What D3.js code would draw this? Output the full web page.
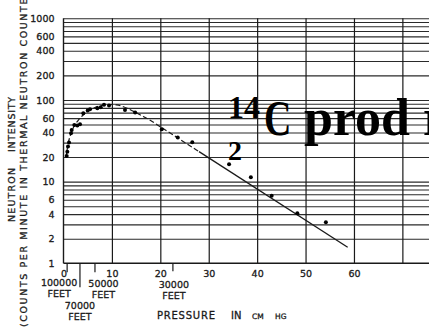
<!DOCTYPE html>
<html>
<head>
<meta charset="utf-8">
<script src="https://cdn.jsdelivr.net/npm/d3@7"></script>
<style>
  body { margin: 0; background: #fff; }
  svg { display: block; }
</style>
</head>
<body>
<svg id="chart" width="429" height="328"></svg>
<script>
// measured points: pressure (cm Hg) vs neutron counts per minute
const pressure = [0.66, 0.79, 0.93, 1.14, 1.55, 1.69, 2.23, 2.85, 3.41, 4.09, 5.0, 5.48, 6.98, 7.69, 8.37, 9.4, 12.7, 14.8,
  20.3, 23.6, 26.6, 34.2, 38.7, 43.0, 48.3, 54.2];
const intensity = [20.6, 23.3, 26.9, 30.1, 39.2, 43, 49.5, 48.6, 50.5, 68.9, 74.1, 77.1, 79.3, 81.6, 87.1, 85.3, 75.6, 70.1,
  43.9, 34.6, 30.4, 16.3, 11.3, 6.7, 4.1, 3.18];

// fitted curve: dashed part, then the straight solid part
const curveDashedP = [0.5, 1, 1.5, 2.2, 3, 4, 5, 6.5, 8, 9.5, 11, 12.5, 14, 16, 18, 20, 28];
const curveDashedI = [19.5, 30, 38, 48, 56, 65, 73, 81, 86, 88, 87, 82, 75, 65, 56, 47, 23.3];
const curveSolidP = [28, 58.7];
const curveSolidI = [23.3, 1.57];

// altitude marks under the pressure axis
const altitudeFeet = ['100000', '70000', '50000', '30000'];
const altitudePressure = [0.75, 3.4, 6.5, 22.6];

const yLabels = [1, 2, 4, 6, 10, 20, 40, 60, 100, 200, 400, 600, 1000];
const yGrid = [2, 3, 4, 5, 6, 7, 8, 9, 10, 20, 30, 40, 50, 60, 70, 80, 90, 100,
  200, 300, 400, 500, 600, 700, 800, 900, 1000];
const xLabels = [0, 10, 20, 30, 40, 50, 60];
const xGrid = [10, 20, 30, 40, 50, 60, 70];

const ink = '#1a1a1a';
const margin = { top: 18.3, left: 63.5 };
const width = 429 - margin.left;
const height = 245;
const sans = 'DejaVu Sans, sans-serif';

const svg = d3.select('#chart');

const x = d3.scaleLinear().domain([0, 75.5]).range([margin.left, 429]);
const y = d3.scaleLog().domain([1, 1000]).range([margin.top + height, margin.top]);

// thin outline on scanned-looking labels
function label(sel, size) {
  sel.attr('font-family', sans).attr('font-size', size).attr('fill', ink)
    .attr('stroke', ink).attr('stroke-width', 0.3);
}

// horizontal grid
const hg = svg.append('g')
  .attr('transform', 'translate(' + margin.left + ',0)')
  .call(d3.axisLeft(y).tickValues(yGrid).tickSize(-width).tickFormat(''));
hg.select('.domain').remove();
hg.selectAll('line').attr('stroke', '#2a2a2a').attr('stroke-width', 1.1);

// vertical grid
const vg = svg.append('g')
  .attr('transform', 'translate(0,' + margin.top + ')')
  .call(d3.axisBottom(x).tickValues(xGrid).tickSize(height).tickFormat(''));
vg.select('.domain').remove();
vg.selectAll('line').attr('stroke', ink).attr('stroke-width', 1.2);

// frame: left and bottom edges
svg.append('line')
  .attr('x1', x(0)).attr('x2', x(0))
  .attr('y1', y(1000)).attr('y2', y(1))
  .attr('stroke', ink).attr('stroke-width', 1.4);
svg.append('line')
  .attr('x1', x(0)).attr('x2', 429)
  .attr('y1', y(1)).attr('y2', y(1))
  .attr('stroke', ink).attr('stroke-width', 1.4);

// y labels
const yl = svg.append('g')
  .attr('transform', 'translate(' + margin.left + ',0)')
  .call(d3.axisLeft(y).tickValues(yLabels).tickFormat(d3.format('d')).tickSize(0).tickPadding(9));
yl.select('.domain').remove();
yl.selectAll('text').call(label, 9.5);

// x labels
const xl = svg.append('g')
  .attr('transform', 'translate(0,' + (margin.top + height) + ')')
  .call(d3.axisBottom(x).tickValues(xLabels).tickSize(0).tickPadding(6.5));
xl.select('.domain').remove();
xl.selectAll('text').call(label, 9.5);

// altitude ticks and labels
const altTickLen = [9, 24, 9, 8];
const altDx = [-8, 0, 8.5, 1];
const altBase = [286, 309, 287, 288];
const alt = svg.append('g').selectAll('g')
  .data(altitudeFeet)
  .enter().append('g');
alt.append('line')
  .attr('x1', (d, i) => x(altitudePressure[i]))
  .attr('x2', (d, i) => x(altitudePressure[i]))
  .attr('y1', y(1))
  .attr('y2', (d, i) => y(1) + altTickLen[i])
  .attr('stroke', ink).attr('stroke-width', 1.2);
alt.append('text')
  .attr('x', (d, i) => x(altitudePressure[i]) + altDx[i])
  .attr('y', (d, i) => altBase[i])
  .attr('text-anchor', 'middle')
  .call(label, 9.5)
  .text(d => d);
alt.append('text')
  .attr('x', (d, i) => x(altitudePressure[i]) + altDx[i])
  .attr('y', (d, i) => altBase[i] + 10.5)
  .attr('text-anchor', 'middle')
  .call(label, 9.5)
  .text('FEET');

// x axis title
const xt = svg.append('text').attr('y', 319).call(label, 10);
xt.append('tspan').attr('x', 157).attr('textLength', 58).text('PRESSURE');
xt.append('tspan').attr('x', 231).text('IN');
xt.append('tspan').attr('x', 252).attr('font-size', 7.5).text('CM');
xt.append('tspan').attr('x', 275).attr('font-size', 7.5).text('HG');

// y axis titles (rotated)
svg.append('text')
  .attr('transform', 'translate(15,222) rotate(-90)')
  .call(label, 9.5)
  .attr('textLength', 54).attr('lengthAdjust', 'spacing')
  .text('NEUTRON');
svg.append('text')
  .attr('transform', 'translate(15,152) rotate(-90)')
  .call(label, 9.5)
  .attr('textLength', 55).attr('lengthAdjust', 'spacing')
  .text('INTENSITY');
svg.append('text')
  .attr('transform', 'translate(27,327) rotate(-90)')
  .call(label, 9.5)
  .attr('textLength', 342).attr('lengthAdjust', 'spacing')
  .text('(COUNTS PER MINUTE IN THERMAL NEUTRON COUNTER)');

// curves
const line = d3.line()
  .x(d => x(d[0]))
  .y(d => y(d[1]))
  .curve(d3.curveMonotoneX);
svg.append('path')
  .datum(curveDashedP.map((p, i) => [p, curveDashedI[i]]))
  .attr('d', line)
  .attr('fill', 'none').attr('stroke', ink).attr('stroke-width', 1.2)
  .attr('stroke-dasharray', '5,2.5');
svg.append('path')
  .datum(curveSolidP.map((p, i) => [p, curveSolidI[i]]))
  .attr('d', d3.line().x(d => x(d[0])).y(d => y(d[1])))
  .attr('fill', 'none').attr('stroke', ink).attr('stroke-width', 1.3);

// measured points
svg.append('g').selectAll('circle')
  .data(pressure)
  .enter().append('circle')
  .attr('cx', d => x(d))
  .attr('cy', (d, i) => y(intensity[i]))
  .attr('r', 2)
  .attr('fill', '#000');

// overlaid title fragment
const serif = 'Liberation Serif, serif';
svg.append('text').attr('x', 228).attr('y', 118)
  .attr('font-family', serif).attr('font-weight', 'bold').attr('font-size', 32).attr('fill', '#000')
  .text('14');
svg.append('text').attr('transform', 'translate(264,135) scale(0.76,1)')
  .attr('font-family', serif).attr('font-weight', 'bold').attr('font-size', 50).attr('fill', '#000')
  .text('C');
svg.append('text').attr('x', 304).attr('y', 135)
  .attr('font-family', serif).attr('font-weight', 'bold').attr('font-size', 52).attr('fill', '#000')
  .text('prod r');
svg.append('text').attr('x', 228).attr('y', 160)
  .attr('font-family', serif).attr('font-weight', 'bold').attr('font-size', 28).attr('fill', '#000')
  .text('2');
</script>
</body>
</html>
